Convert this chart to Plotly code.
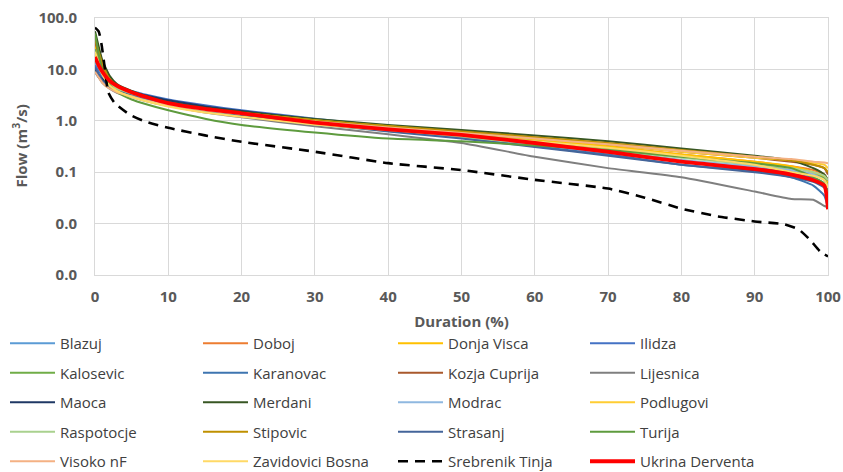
import plotly.graph_objects as go

# ---------------- data ----------------
DURATION = [0, 0.5, 1, 2, 3, 5, 7, 10, 15, 20, 30, 40, 50, 60, 70, 80, 90, 95, 98, 99.5, 100]

blazuj = [14, 10, 7.5, 5.2, 4.3, 3.4, 2.8, 2.2, 1.7, 1.4, 0.95, 0.68, 0.5, 0.35, 0.24, 0.16, 0.12, 0.1, 0.08, 0.06, 0.045]
doboj = [45, 25, 14, 7, 5, 3.6, 2.9, 2.25, 1.75, 1.45, 1.0, 0.75, 0.58, 0.44, 0.32, 0.22, 0.16, 0.13, 0.11, 0.09, 0.07]
donja_visca = [30, 16, 10, 5.5, 4.2, 3.1, 2.5, 2.0, 1.55, 1.3, 0.95, 0.72, 0.56, 0.43, 0.32, 0.22, 0.16, 0.13, 0.1, 0.08, 0.06]
ilidza = [12, 9.5, 7.5, 5.5, 4.6, 3.8, 3.2, 2.6, 2.0, 1.6, 1.1, 0.78, 0.55, 0.38, 0.26, 0.17, 0.12, 0.095, 0.075, 0.06, 0.04]
kalosevic = [25, 14, 9, 5.5, 4.2, 3.2, 2.6, 2.05, 1.6, 1.3, 0.92, 0.7, 0.54, 0.4, 0.29, 0.2, 0.14, 0.11, 0.09, 0.075, 0.05]
karanovac = [9, 7, 6, 4.8, 4.2, 3.5, 3.0, 2.45, 1.85, 1.5, 1.0, 0.7, 0.48, 0.32, 0.22, 0.14, 0.105, 0.08, 0.055, 0.035, 0.02]
kozja_cuprija = [35, 20, 12, 6.5, 4.8, 3.5, 2.9, 2.3, 1.8, 1.5, 1.05, 0.8, 0.62, 0.47, 0.35, 0.25, 0.19, 0.16, 0.14, 0.12, 0.09]
lijesnica = [10, 7, 5.5, 4.2, 3.5, 2.9, 2.4, 1.95, 1.45, 1.17, 0.78, 0.55, 0.37, 0.2, 0.12, 0.08, 0.042, 0.03, 0.029, 0.022, 0.021]
maoca = [10, 8, 6.5, 5, 4.3, 3.6, 3.1, 2.5, 1.9, 1.55, 1.05, 0.75, 0.52, 0.36, 0.25, 0.16, 0.11, 0.09, 0.07, 0.055, 0.035]
merdani = [55, 28, 15, 7.5, 5.2, 3.8, 3.0, 2.3, 1.8, 1.5, 1.08, 0.83, 0.66, 0.52, 0.4, 0.29, 0.21, 0.17, 0.12, 0.09, 0.07]
modrac = [20, 13, 9, 5.8, 4.5, 3.4, 2.8, 2.2, 1.65, 1.35, 0.9, 0.65, 0.49, 0.35, 0.25, 0.17, 0.13, 0.11, 0.09, 0.07, 0.05]
podlugovi = [20, 12, 8.5, 5.5, 4.3, 3.3, 2.7, 2.15, 1.7, 1.42, 1.02, 0.78, 0.6, 0.46, 0.35, 0.25, 0.19, 0.17, 0.15, 0.14, 0.12]
raspotocje = [16, 11, 8, 5.2, 4.1, 3.2, 2.6, 2.05, 1.55, 1.25, 0.85, 0.63, 0.48, 0.36, 0.27, 0.19, 0.14, 0.12, 0.1, 0.085, 0.07]
stipovic = [40, 22, 13, 6.5, 4.8, 3.5, 2.8, 2.2, 1.7, 1.42, 1.03, 0.79, 0.62, 0.48, 0.37, 0.27, 0.2, 0.17, 0.14, 0.12, 0.1]
strasanj = [11, 8, 6, 4.5, 3.8, 3.1, 2.6, 2.1, 1.6, 1.3, 0.88, 0.62, 0.45, 0.31, 0.21, 0.14, 0.1, 0.08, 0.065, 0.05, 0.03]
turija = [50, 20, 10, 5, 3.6, 2.6, 2.1, 1.6, 1.1, 0.83, 0.59, 0.45, 0.4, 0.33, 0.27, 0.2, 0.15, 0.12, 0.08, 0.06, 0.04]
visoko_nf = [9, 7, 5.5, 4.2, 3.6, 3.0, 2.5, 2.05, 1.6, 1.35, 0.97, 0.74, 0.58, 0.45, 0.35, 0.26, 0.2, 0.18, 0.16, 0.155, 0.15]
zavidovici_bosna = [22, 13, 8, 4.8, 3.8, 2.9, 2.4, 1.9, 1.45, 1.2, 0.85, 0.66, 0.52, 0.4, 0.3, 0.21, 0.14, 0.1, 0.085, 0.07, 0.05]
ukrina_derventa = [17.5, 12, 9, 6, 4.8, 3.6, 2.9, 2.2, 1.7, 1.4, 0.92, 0.68, 0.53, 0.37, 0.25, 0.16, 0.115, 0.09, 0.07, 0.055, 0.019]

DURATION_TINJA = [0, 0.5, 0.9, 1.4, 1.8, 2.7, 4.8, 7, 10, 15, 20, 30, 40, 50, 60, 70, 75, 80, 85, 90, 94, 96, 97.5, 99, 100]
srebrenik_tinja = [65, 55, 30, 9, 3.6, 2.2, 1.3, 0.95, 0.73, 0.52, 0.39, 0.25, 0.15, 0.11, 0.071, 0.048, 0.032, 0.0195, 0.0138, 0.011, 0.0097, 0.0077, 0.0049, 0.0028, 0.0023]

Y_TICKS = [0.001, 0.01, 0.1, 1, 10, 100]
Y_TICK_TEXT = ["0.0", "0.0", "0.1", "1.0", "10.0", "100.0"]
X_TICKS = [0, 10, 20, 30, 40, 50, 60, 70, 80, 90, 100]

SERIES = [
    ("Blazuj", blazuj, "#5B9BD5"),
    ("Doboj", doboj, "#ED7D31"),
    ("Donja Visca", donja_visca, "#FFC000"),
    ("Ilidza", ilidza, "#4472C4"),
    ("Kalosevic", kalosevic, "#70AD47"),
    ("Karanovac", karanovac, "#3E75B0"),
    ("Kozja Cuprija", kozja_cuprija, "#A9592C"),
    ("Lijesnica", lijesnica, "#7F7F7F"),
    ("Maoca", maoca, "#1F3864"),
    ("Merdani", merdani, "#375623"),
    ("Modrac", modrac, "#8FB8E0"),
    ("Podlugovi", podlugovi, "#FFCD33"),
    ("Raspotocje", raspotocje, "#A9D18E"),
    ("Stipovic", stipovic, "#BF9000"),
    ("Strasanj", strasanj, "#44659A"),
    ("Turija", turija, "#5E9B3E"),
    ("Visoko nF", visoko_nf, "#F4B183"),
    ("Zavidovici Bosna", zavidovici_bosna, "#FFD966"),
]

FONT = "Open Sans"
GRAY = "#595959"

fig = go.Figure()
legend_ids = ["legend", "legend2", "legend3", "legend4"]

for i, (name, vals, col) in enumerate(SERIES):
    fig.add_trace(go.Scatter(
        x=DURATION, y=vals, name=name, mode="lines",
        line=dict(color=col, width=2, shape="spline", smoothing=0.5),
        legend=legend_ids[i % 4], legendgroup=name, legendrank=i,
    ))

fig.add_trace(go.Scatter(
    x=DURATION_TINJA, y=srebrenik_tinja, name="Srebrenik Tinja", mode="lines",
    line=dict(color="#000000", width=2.6, dash="10px,7px", shape="spline", smoothing=0.5),
    legend="legend3", legendgroup="Srebrenik Tinja", legendrank=18,
))
fig.add_trace(go.Scatter(
    x=DURATION, y=ukrina_derventa, name="Ukrina Derventa", mode="lines",
    line=dict(color="#FF0000", width=3.8, shape="spline", smoothing=0.5),
    legend="legend4", legendgroup="Ukrina Derventa", legendrank=19,
))

H = 472
leg_common = dict(
    xref="container", yref="container", yanchor="top", xanchor="left",
    orientation="v", tracegroupgap=7, itemwidth=45,
    font=dict(family=FONT, size=15, color="#404040"),
    bgcolor="rgba(0,0,0,0)",
)
col_x = [5, 198, 393, 585]
layout_legends = {}
for lid, cx in zip(legend_ids, col_x):
    layout_legends[lid] = dict(leg_common, x=cx / 843, y=(H - 327) / H)

fig.update_layout(
    width=843, height=472,
    margin=dict(l=95, r=15, t=18, b=197, autoexpand=False),
    paper_bgcolor="white", plot_bgcolor="white",
    font=dict(family=FONT, color=GRAY),
    annotations=[dict(
        text="Flow (m<sup>3</sup>/s)", textangle=-90, showarrow=False,
        xref="paper", yref="paper", x=(20 - 95) / 733, y=0.5,
        xanchor="center", yanchor="middle",
        font=dict(family=FONT, size=15, color=GRAY, weight="bold"),
    )],
    **layout_legends,
)

fig.update_xaxes(
    range=[0, 100], tickvals=X_TICKS, showgrid=True, gridcolor="#D9D9D9", gridwidth=1,
    showline=True, linecolor="#D9D9D9", linewidth=1, mirror=True, zeroline=False,
    ticks="", tickfont=dict(family=FONT, size=15, color=GRAY, weight="bold"),
    ticklabelstandoff=8,
    title=dict(text="Duration (%)", font=dict(family=FONT, size=15, color=GRAY, weight="bold"), standoff=11),
)
fig.update_yaxes(
    type="log", range=[-3, 2], tickvals=Y_TICKS, ticktext=Y_TICK_TEXT,
    showgrid=True, gridcolor="#D9D9D9", gridwidth=1,
    showline=True, linecolor="#D9D9D9", linewidth=1, mirror=True, zeroline=False,
    ticks="", tickfont=dict(family=FONT, size=15, color=GRAY, weight="bold"),
    ticklabelstandoff=14,
)

fig.write_html("out.html", config={"displayModeBar": False},
               post_script="document.body.style.margin='0';")
